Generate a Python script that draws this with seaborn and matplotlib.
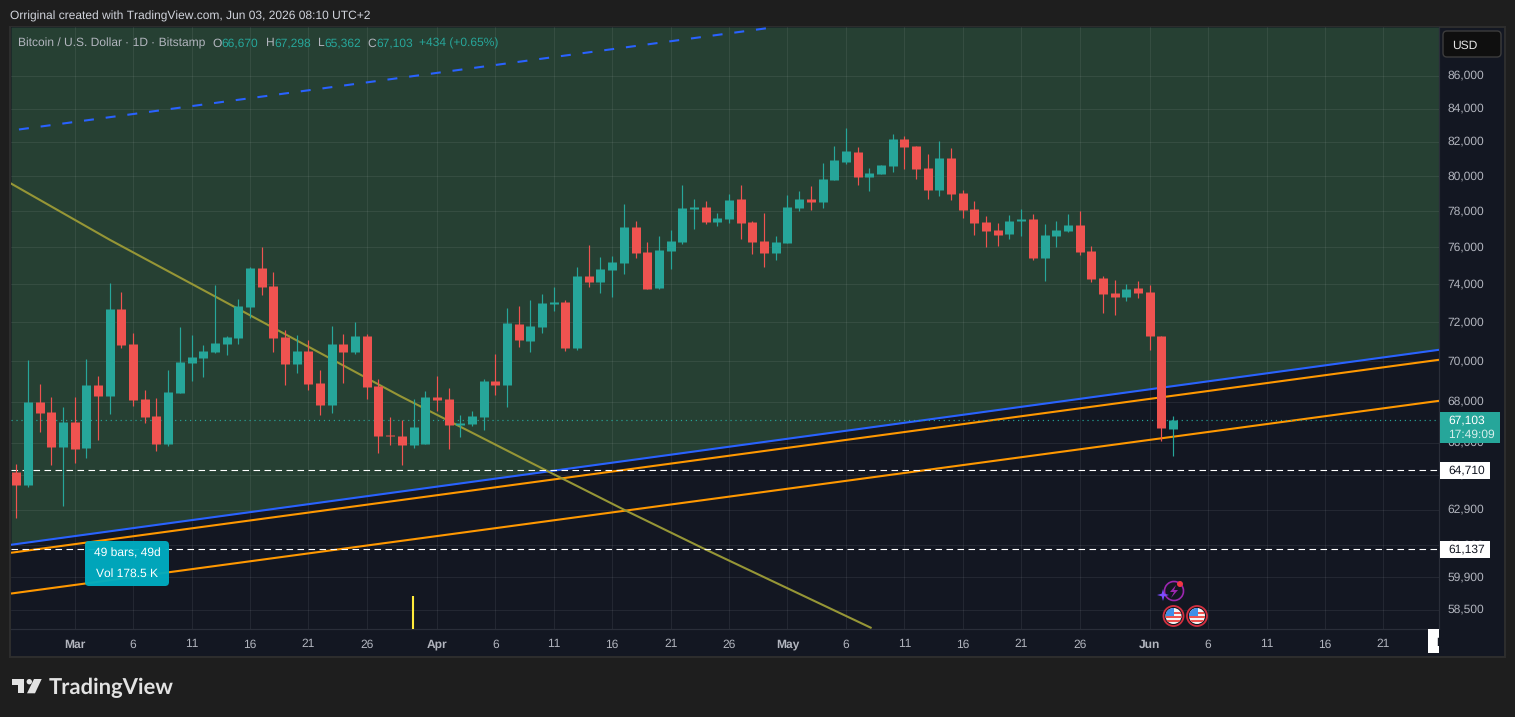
import matplotlib
matplotlib.use("Agg")
import matplotlib.pyplot as plt
import matplotlib.transforms as mt
from matplotlib.patches import Rectangle, FancyBboxPatch, Circle, Polygon, Arc
from matplotlib.ticker import NullLocator
import numpy as np
import pandas as pd
import seaborn as sns

start_date = "2026-02-24"
opens = [64578,63975,67923,67435,65753,66951,65706,68762,68218,72639,70828,68070,67241,65896,68366,
         69863,70115,70420,70828,71135,72744,74820,73855,71186,69812,70470,68861,67776,70828,70420,
         71238,68712,66325,66277,65848,65896,68169,68070,66806,66854,67192,68960,68762,71856,70981,
         71701,72901,73006,70623,74390,74068,74712,75091,77067,75689,73749,75743,76237,78074,78187,
         77345,77513,78640,77345,76292,75634,76182,78131,78640,78470,79725,80767,81352,79898,80071,
         80535,82120,81705,80418,79152,81001,78982,78074,77345,76900,76679,77401,77513,75362,76568,
         76845,77178,75743,74282,73483,73271,73749,73536,71238,66670]
highs = [64951,70014,68812,68169,67679,68169,70065,69210,74015,73536,71392,68514,68120,69510,71701,
         71289,70776,73908,71238,73165,74874,75963,74605,71546,71289,71032,69510,71752,71341,71960,
         71341,69060,67192,67047,68070,68465,69210,68613,67289,67483,69060,70318,72691,72796,73112,
         73430,73802,73112,74874,76072,75416,75471,78357,77401,76237,76568,76900,79438,78640,78526,
         77850,78925,79438,77401,77850,76568,78868,79095,79381,80709,81705,82774,81647,80418,80593,
         82417,82298,81705,81235,82001,81588,79152,78526,77681,77290,77737,78074,77794,77234,77401,
         77794,77962,76017,74390,74175,73961,74121,73908,71238,67298]
lows = [62469,63883,66469,64905,63012,64999,65233,66086,67338,70623,67728,66902,65564,65801,68366,
        68960,69160,70369,70268,70828,72168,73377,70420,68762,69360,68514,67289,67386,68861,70318,
        68070,65469,65848,64905,65706,65896,67483,65658,66229,66758,66565,68267,67679,70674,70420,
        71392,72534,70470,70521,73802,73483,73271,74497,75362,73695,73695,74766,76127,76955,77234,
        77122,77290,76402,75580,74874,75253,76182,77962,78018,78131,79725,80651,79438,79095,80071,
        80186,80360,79783,78640,78811,78583,77569,76623,75963,76017,76402,76568,75253,74121,75963,
        76789,75525,74068,72430,72325,73059,73218,70521,66038,65362]
closes = [63975,67923,67386,65753,66951,65658,68762,68218,72639,70776,68021,67192,65896,68415,69913,
          70166,70470,70879,71186,72796,74820,73802,71135,69812,70470,68812,67776,70828,70420,71238,
          68663,66277,66277,65848,66710,68169,68021,66806,66902,67241,68960,68762,71908,71032,71752,
          72954,73006,70623,74390,74068,74766,75145,77067,75634,73695,75798,76292,78131,78187,77345,
          77569,78583,77290,76237,75634,76237,78187,78640,78470,79783,80884,81411,79898,80129,80593,
          82120,81647,80360,79152,81001,78925,78018,77290,76845,76623,77401,77513,75362,76623,76900,
          77178,75689,74229,73430,73271,73695,73483,71238,66669,67103]
# the figures above were read against the tick labels; the gridlines sit about a pixel lower
reading_offset = 1.0007

level_prices = [64710, 61137]
last_price = 67103
blue_line = [61323, 70587]
orange_line_a = [60971, 70080]
orange_line_b = [59203, 68036]
olive_days = [-5.56, 3.0, 27.81, 38.94, 47.07, 53.92, 68.2]
olive_line = [79628, 76420, 68283, 65094, 62879, 61134, 57746]
upper_dash_days = [-4.77, 60.15]
upper_dash = [82749, 89114]
event_day = 28.93
event_top = 59110

price_ticks = [86000,84000,82000,80000,78000,76000,74000,72000,70000,68000,66000,64500,62900,61300,59900,58500]
date_ticks = [0,5,10,15,20,25,31,36,41,46,51,56,61,66,71,76,81,86,92,97,102,107,112]
date_labels = ["Mar","6","11","16","21","26","Apr","6","11","16","21","26","May","6","11","16","21","26","Jun","6","11","16","21"]
legend_parts = [("Bitcoin / U.S. Dollar · 1D · Bitstamp",18,"#b2b5be"),("O",212,"#b2b5be"),("66,670",221,"#26a69a"),
                ("H",265,"#b2b5be"),("67,298",274,"#26a69a"),("L",317,"#b2b5be"),("65,362",324,"#26a69a"),
                ("C",367,"#b2b5be"),("67,103",376,"#26a69a"),("+434 (+0.65%)",419,"#26a69a")]

sns.set_theme(style="dark")
plt.rcParams["font.family"] = ["Liberation Sans", "DejaVu Sans"]
plt.rcParams["text.hinting"] = "no_hinting"
plt.rcParams["text.hinting_factor"] = 1

W, H = 1515, 717
BG, NAVY, GREEN = "#1e1e1e", "#131722", "#264033"
UP, DOWN = "#26a69a", "#ef5350"
fig = plt.figure(figsize=(W/100, H/100), dpi=100, facecolor=BG)
px = mt.Affine2D().scale(1, -1).translate(0, H)

fig.add_artist(Rectangle((10, 27), 1495, 630, transform=px, fc=NAVY, ec="#2e2e2e", lw=1.4, zorder=0))

ax = fig.add_axes([11/W, (H-629)/H, 1428/W, 602/H], zorder=1)
ax.set_facecolor(NAVY)
ax.set_yscale("log")
xlim = (-5.45, 116.76)
ylim = (57708, 89100)
ax.set_xlim(*xlim)
ax.set_ylim(*ylim)

# regions and grid
ax.fill_between(xlim, blue_line, ylim[1], color=GREEN, lw=0, zorder=1)
ax.set_yticks(price_ticks)
ax.set_yticklabels([f"{v:,}" for v in price_ticks])
ax.yaxis.set_minor_locator(NullLocator())
ax.set_xticks(date_ticks)
ax.set_xticklabels(date_labels)
ax.yaxis.tick_right()
ax.grid(True, color="#f0f3fa", alpha=0.075, lw=0.72, zorder=2)
ax.set_axisbelow(False)
ax.tick_params(axis="y", length=0, pad=6.3, labelsize=8.7, labelcolor="#b2b5be")
ax.tick_params(axis="x", length=0, pad=7.0, labelsize=8.7, labelcolor="#b2b5be")
for t in ax.get_xticklabels():
    if t.get_text().isalpha():
        t.set_fontweight("bold")
for t in ax.get_yticklabels():
    t.set_transform(t.get_transform() + mt.Affine2D().translate(0, 1.6))
for s in ("top", "left"):
    ax.spines[s].set_visible(False)
for s in ("right", "bottom"):
    ax.spines[s].set_color("#2a2e39")
    ax.spines[s].set_linewidth(0.9)

# candles through seaborn
dates = pd.date_range(start_date, periods=len(opens), freq="D")
days = (dates - pd.Timestamp("2026-03-01")).days.to_numpy()
ohlc = pd.DataFrame({"day": days, "open": opens, "high": highs, "low": lows, "close": closes}, dtype=float)
ohlc.loc[ohlc.index[:-1], ["open", "high", "low", "close"]] *= reading_offset
ohlc["dir"] = np.where(ohlc["close"] >= ohlc["open"], "up", "down")
ohlc["candle"] = np.arange(len(ohlc))
wicks = ohlc.melt(id_vars=["day", "dir", "candle"], value_vars=["high", "low"], value_name="price")
bodies = ohlc.melt(id_vars=["day", "dir", "candle"], value_vars=["open", "close"], value_name="price")

# overlay lines
line_kw = dict(solid_capstyle="butt", zorder=3)
sns.lineplot(x=list(xlim), y=blue_line, color="#2962ff", lw=1.5, ax=ax, **line_kw)
sns.lineplot(x=list(xlim), y=orange_line_a, color="#ff9800", lw=1.5, ax=ax, **line_kw)
sns.lineplot(x=list(xlim), y=orange_line_b, color="#ff9800", lw=1.5, ax=ax, **line_kw)
ax.plot(olive_days, olive_line, color="#969636", lw=1.5, solid_capstyle="butt", zorder=3)
ax.plot(upper_dash_days, upper_dash, color="#2962ff", lw=1.5, ls=(0, (4.8, 5.7)), dash_capstyle="butt", zorder=3)
ax.plot(xlim, [last_price]*2, color="#26a69a", lw=0.85, ls=(0, (1, 3.2)), zorder=3)
for lv in level_prices:
    ax.plot(xlim, [lv]*2, color="#ffffff", lw=0.8, ls=(0, (5.9, 4)), dash_capstyle="butt", zorder=3)
ax.plot([event_day]*2, [ylim[0], event_top], color="#ffeb3b", lw=1.5, solid_capstyle="butt", zorder=3)

palette = {"up": UP, "down": DOWN}
sns.lineplot(data=wicks, x="day", y="price", hue="dir", units="candle", estimator=None, palette=palette,
             lw=0.85, legend=False, sort=False, ax=ax, solid_capstyle="butt", zorder=4)
sns.lineplot(data=bodies, x="day", y="price", hue="dir", units="candle", estimator=None, palette=palette,
             lw=6.48, legend=False, sort=False, ax=ax, solid_capstyle="butt", zorder=5)
ax.set_xlabel("")
ax.set_ylabel("")
ax.set_xlim(*xlim)
ax.set_ylim(*ylim)


def T(x, y, s, size=12, color="#d1d4dc", ha="left", va="center", weight="normal", z=8, **kw):
    return fig.text(x, y, s, transform=px, fontsize=size*0.72, color=color, ha=ha, va=va,
                    fontweight=weight, zorder=z, **kw)


def tag(x, y, w, h, color, ec="none", r=2, z=6, lw=0.8):
    p = FancyBboxPatch((x+r, y+r), w-2*r, h-2*r, boxstyle=f"round,pad={r},rounding_size={r}", transform=px,
                       fc=color, ec=ec, lw=lw, zorder=z)
    fig.add_artist(p)
    return p


T(10, 19.5, "Orriginal created with TradingView.com, Jun 03, 2026 08:10 UTC+2", va="baseline")
for text, x, c in legend_parts:
    T(x, 46.5, text, color=c, va="baseline")

# price scale tags
tag(1443, 31, 58, 26, "#0f0f0f", ec="#3c3c3c", r=4, lw=1)
T(1452, 45.5, "USD", color="#e6e6e6")
fig.add_artist(Rectangle((1440, 412), 60, 31, transform=px, fc="#26a69a", ec="none", zorder=6))
T(1448, 420.5, "67,103", color="#ffffff")
T(1448, 434.5, "17:49:09", color="#d4eeeb")
for lv, yy in zip(level_prices, (462, 541)):
    fig.add_artist(Rectangle((1440, yy), 50, 17, transform=px, fc="#ffffff", ec="none", zorder=6))
    T(1448, yy+8.5, f"{lv:,}", color="#131722")

# date scale tag at the right edge
date_box = Rectangle((1428, 629), 11, 24, transform=px, fc="#ffffff", ec="none", zorder=6)
fig.add_artist(date_box)
cut = T(1436, 643, "M", color="#131722", weight="bold")
cut.set_clip_path(date_box)

# measure tooltip
tag(85, 541, 84, 45, "#00acc1", r=4, z=6).set_alpha(0.96)
T(127, 553.5, "49 bars, 49d", color="#ffffff", ha="center")
T(127, 573.5, "Vol 178.5 K", color="#ffffff", ha="center")

# event icons
fig.add_artist(Arc((1174, 591), 19, 19, transform=px, color="#9c27b0", lw=1.2, zorder=7))
fig.add_artist(Polygon([(1176, 585), (1170, 592), (1174, 592), (1171, 598), (1178, 590), (1174, 590)],
                       transform=px, fc="#9c27b0", ec="none", zorder=7))
fig.add_artist(Circle((1180, 584), 3, transform=px, fc="#f23645", ec="none", zorder=7))
fig.add_artist(Polygon([(1163, 589), (1164.3, 593.7), (1169, 595), (1164.3, 596.3), (1163, 601),
                        (1161.7, 596.3), (1157, 595), (1161.7, 593.7)], transform=px, fc="#7c4dff", ec="none", zorder=7))
for cx in (1173.5, 1197):
    fig.add_artist(Circle((cx, 616), 10, transform=px, fc="#131722", ec="#d32f3f", lw=1.3, zorder=7))
    disc = Circle((cx, 616), 8, transform=px, fc="#f4f4f4", ec="none", zorder=7)
    fig.add_artist(disc)
    for yy in (611.5, 615.5, 619.5):
        st = Rectangle((cx-8, yy), 16, 2, transform=px, fc="#ef5350", ec="none", zorder=7)
        fig.add_artist(st)
        st.set_clip_path(disc)
    can = Rectangle((cx-8, 608), 8.5, 7.5, transform=px, fc="#3f8fe8", ec="none", zorder=7)
    fig.add_artist(can)
    can.set_clip_path(disc)

# logo
logo = "#e3e3e3"
fig.add_artist(Polygon([(12, 679), (24, 679), (24, 693.3), (18, 693.3), (18, 684.5), (12, 684.5)],
                       transform=px, fc=logo, ec="none", zorder=7))
fig.add_artist(Circle((29.3, 681.7), 2.7, transform=px, fc=logo, ec="none", zorder=7))
fig.add_artist(Polygon([(34, 679), (41.7, 679), (35, 693.3), (27, 693.3)], transform=px, fc=logo, ec="none", zorder=7))
T(49, 688, "TradingView", size=21.7, color=logo, weight="bold", family="Lato")

fig.savefig("out.png", dpi=100, facecolor=BG)
